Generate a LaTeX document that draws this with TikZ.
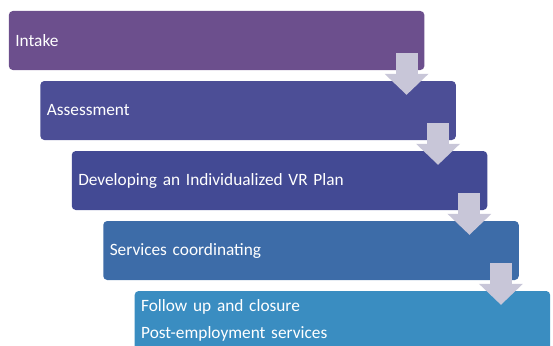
\documentclass[tikz,border=0pt]{standalone}
\usepackage{fontspec}
\setmainfont{Carlito}
\usepackage{tikz}
\usetikzlibrary{arrows.meta,calc}
\definecolor{intakecol}{RGB}{108,79,141}
\definecolor{assesscol}{RGB}{76,78,150}
\definecolor{plancol}{RGB}{67,74,148}
\definecolor{servicecol}{RGB}{61,108,168}
\definecolor{closurecol}{RGB}{58,141,193}
\definecolor{arrowcol}{RGB}{200,198,216}

\begin{document}
\begin{tikzpicture}[x=1pt,y=-1pt]
\useasboundingbox (0,0) rectangle (553,345);
\begin{scope}[every node/.style={rounded corners=4pt,text=white,align=left,
              text width=402.5pt,inner xsep=6.5pt,inner ysep=0pt,minimum height=59pt,
              font=\fontsize{17.3}{26.6}\selectfont}]
    \node[fill=intakecol] (intake) at (216.6,40.5) {Intake};
    \node[fill=assesscol] (assessment) at (248.1,110.5) {Assessment};
    \node[fill=plancol] (plan) at (279.5,180.5) {Developing an Individualized VR Plan};
    \node[fill=servicecol] (services) at (311,250.5) {Services coordinating};
    \node[fill=closurecol] (closure) at (342.4,320.5) {Follow up and closure\\Post-employment services};
\end{scope}

\begin{scope}[>={Triangle[width=44pt,length=21pt,line width=0pt]},
              every edge/.style={draw=arrowcol,line width=22pt}]
    \path [->] ($(intake.south east)+(-18pt,17pt)$) edge ($(intake.east |- assessment.north)+(-18pt,-14pt)$);
    \path [->] ($(assessment.south east)+(-18pt,17pt)$) edge ($(assessment.east |- plan.north)+(-18pt,-14pt)$);
    \path [->] ($(plan.south east)+(-18pt,17pt)$) edge ($(plan.east |- services.north)+(-18pt,-14pt)$);
    \path [->] ($(services.south east)+(-18pt,17pt)$) edge ($(services.east |- closure.north)+(-18pt,-14pt)$);
\end{scope}

\end{tikzpicture}
\end{document}
